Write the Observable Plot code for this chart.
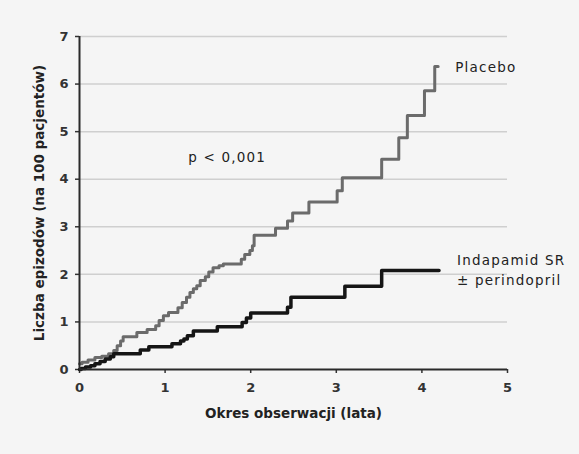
<!DOCTYPE html>
<html>
<head>
<meta charset="utf-8">
<script src="https://cdn.jsdelivr.net/npm/d3@7"></script>
<script src="https://cdn.jsdelivr.net/npm/@observablehq/plot@0.6"></script>
<style>
  html, body { margin: 0; padding: 0; background: #f5f5f5; }
  #chart svg { display: block; }
</style>
</head>
<body>
<div id="chart"></div>
<script>
// Time of each jump (years) and cumulative events per 100 patients
const placeboT = [0.00,0.03,0.10,0.18,0.26,0.34,0.40,0.44,0.48,0.51,0.67,0.79,0.89,0.93,0.98,1.04,1.15,1.20,1.25,1.29,1.33,1.37,1.41,1.47,1.51,1.56,1.63,1.68,1.89,1.93,1.99,2.02,2.04,2.29,2.43,2.49,2.68,3.01,3.07,3.53,3.73,3.83,4.03,4.15,4.19];
const placeboY = [0.12,0.15,0.20,0.25,0.28,0.33,0.40,0.50,0.60,0.69,0.78,0.84,0.92,1.03,1.13,1.20,1.30,1.41,1.52,1.62,1.70,1.76,1.87,1.95,2.05,2.14,2.18,2.22,2.32,2.42,2.50,2.60,2.82,2.97,3.12,3.29,3.52,3.76,4.03,4.42,4.87,5.34,5.86,6.37,6.37];
const indapT = [0.00,0.02,0.07,0.13,0.18,0.24,0.30,0.36,0.40,0.71,0.81,1.08,1.18,1.22,1.26,1.33,1.61,1.90,1.95,2.00,2.43,2.47,3.10,3.53,4.20];
const indapY = [0.00,0.02,0.05,0.08,0.12,0.17,0.22,0.27,0.33,0.41,0.48,0.54,0.60,0.64,0.71,0.81,0.90,0.99,1.08,1.19,1.31,1.52,1.75,2.08,2.08];

const xTicks = [0, 1, 2, 3, 4, 5];
const yTicks = [0, 1, 2, 3, 4, 5, 6, 7];
const xLabel = "Okres obserwacji (lata)";
const yLabel = "Liczba epizodów (na 100 pacjentów)";
const seriesLabels = ["Placebo", "Indapamid SR\n± perindopril"];
const pLabel = "p < 0,001";

const placebo = placeboT.map((t, i) => ({t, y: placeboY[i]}));
const indap = indapT.map((t, i) => ({t, y: indapY[i]}));

const font = "DejaVu Sans, Verdana, sans-serif";

const chart = Plot.plot({
  width: 579,
  height: 454,
  marginLeft: 79,
  marginRight: 72,
  marginTop: 36,
  marginBottom: 85,
  style: {background: "#f5f5f5", fontFamily: font},
  x: {domain: [0, 5]},
  y: {domain: [0, 7]},
  marks: [
    Plot.gridY(yTicks.filter(d => d > 0), {stroke: "#cfcfcf", strokeOpacity: 1, strokeWidth: 1.5}),
    Plot.axisY(yTicks, {
      tickSize: 4, tickPadding: 7, stroke: "#333", strokeWidth: 1.5,
      fontSize: 13, fontWeight: "bold", fill: "#333",
      label: yLabel, labelAnchor: "center", labelOffset: 45, labelArrow: "none"
    }),
    Plot.axisX(xTicks, {
      tickSize: 4, tickPadding: 9, stroke: "#333", strokeWidth: 1.5,
      fontSize: 13, fontWeight: "bold", fill: "#333",
      label: xLabel, labelAnchor: "center", labelOffset: 48, labelArrow: "none"
    }),
    Plot.line(placebo, {x: "t", y: "y", curve: "step-after", stroke: "#6b6b6b", strokeWidth: 3}),
    Plot.line(indap, {x: "t", y: "y", curve: "step-after", stroke: "#151515", strokeWidth: 3.5}),
    Plot.ruleX([0], {stroke: "#2a2a2a", strokeWidth: 2}),
    Plot.ruleY([0], {stroke: "#2a2a2a", strokeWidth: 2}),
    Plot.text([seriesLabels[0]], {x: 4.39, y: 6.39, text: d => d, textAnchor: "start", fontSize: 13.5, fill: "#222", lineHeight: 1.5}),
    Plot.text([seriesLabels[1]], {x: 4.41, y: 2.13, text: d => d, textAnchor: "start", fontSize: 13.5, fill: "#222", lineHeight: 1.5}),
    Plot.text([pLabel], {x: 1.27, y: 4.45, text: d => d, textAnchor: "start", fontSize: 13.5, fill: "#222"})
  ]
});

// style axis titles bold
chart.querySelectorAll("[aria-label='y-axis label'] text, [aria-label='x-axis label'] text").forEach(t => {
  t.setAttribute("font-weight", "bold");
  t.setAttribute("font-size", "13.5");
  t.setAttribute("fill", "#222");
});
// wider letter spacing for annotation texts, as in the reference
chart.querySelectorAll("[aria-label='text'] text").forEach(t => {
  t.setAttribute("letter-spacing", "1.2");
});

document.getElementById("chart").append(chart);
</script>
</body>
</html>
